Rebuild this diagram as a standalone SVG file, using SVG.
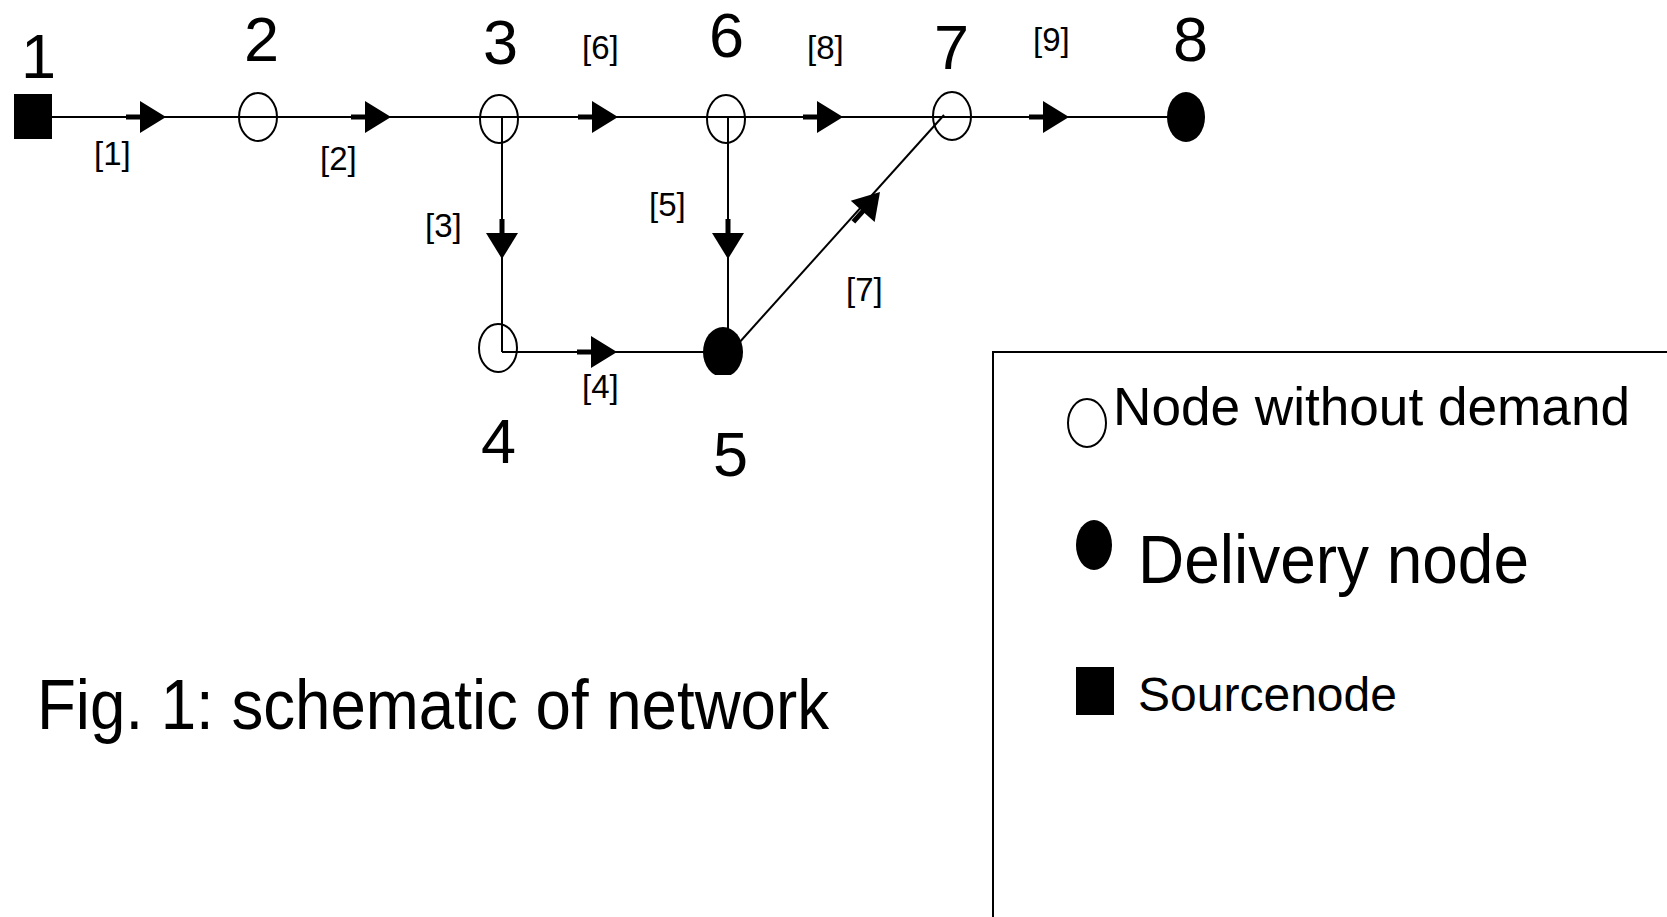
<svg xmlns="http://www.w3.org/2000/svg" xmlns:xlink="http://www.w3.org/1999/xlink" width="1667" height="917" viewBox="0 0 1667 917">
<style>
text{font-family:"Liberation Sans",Arial,sans-serif;fill:#000}
.num{font-size:63px}
.lab{font-size:33px}
.line{stroke:#000;stroke-width:2;fill:none}
.open2{fill:none;stroke:#000;stroke-width:2}
.fill{fill:#000}
</style>
<defs>
<g id="ah"><rect x="-40" y="-2.5" width="16" height="5" fill="#000"/><path d="M0,0 L-26,-16 L-26,16 Z" fill="#000"/></g>
<clipPath id="clip5"><rect x="690" y="300" width="70" height="75"/></clipPath>
</defs>
<rect width="1667" height="917" fill="#fff"/>
<g id="connectors">
<line class="line" x1="52" y1="117" x2="1186" y2="117"/>
<line class="line" x1="502" y1="117" x2="502" y2="352"/>
<line class="line" x1="502" y1="352" x2="723" y2="352"/>
<line class="line" x1="728" y1="117" x2="728" y2="352"/>
<line class="line" x1="738" y1="344" x2="944" y2="115"/>
<use xlink:href="#ah" transform="translate(166,117)"/>
<use xlink:href="#ah" transform="translate(391,117)"/>
<use xlink:href="#ah" transform="translate(618,117)"/>
<use xlink:href="#ah" transform="translate(843,117)"/>
<use xlink:href="#ah" transform="translate(1069,117)"/>
<use xlink:href="#ah" transform="translate(502,259) rotate(90)"/>
<use xlink:href="#ah" transform="translate(728,259) rotate(90)"/>
<use xlink:href="#ah" transform="translate(617,352)"/>
<use xlink:href="#ah" transform="translate(880,192) rotate(-48.3)"/>
<text class="lab" x="94" y="165">[1]</text>
<text class="lab" x="320" y="170">[2]</text>
<text class="lab" x="425" y="237">[3]</text>
<text class="lab" x="582" y="398">[4]</text>
<text class="lab" x="649" y="216">[5]</text>
<text class="lab" x="582" y="59">[6]</text>
<text class="lab" x="846" y="301">[7]</text>
<text class="lab" x="807" y="59">[8]</text>
<text class="lab" x="1033" y="51">[9]</text>
</g>
<g id="node1"><rect class="fill" x="14" y="94" width="38" height="45"/><text class="num" x="21" y="78">1</text></g>
<g id="node2"><ellipse class="open2" cx="258" cy="117" rx="19" ry="24"/><text class="num" x="244" y="61">2</text></g>
<g id="node3"><ellipse class="open2" cx="499" cy="119" rx="19" ry="24"/><text class="num" x="483" y="64">3</text></g>
<g id="node4"><ellipse class="open2" cx="498" cy="348" rx="19" ry="24"/><text class="num" x="481" y="463">4</text></g>
<g id="node5"><ellipse class="fill" cx="723" cy="352" rx="20" ry="25" clip-path="url(#clip5)"/><text class="num" x="713" y="476">5</text></g>
<g id="node6"><ellipse class="open2" cx="726" cy="119" rx="19" ry="24"/><text class="num" x="709" y="57">6</text></g>
<g id="node7"><ellipse class="open2" cx="952" cy="116" rx="19" ry="24"/><text class="num" x="934" y="69">7</text></g>
<g id="node8"><ellipse class="fill" cx="1186" cy="117" rx="19" ry="25"/><text class="num" x="1173" y="61">8</text></g>
<g id="caption"><text x="37" y="729" font-size="70" textLength="792" lengthAdjust="spacingAndGlyphs">Fig. 1: schematic of network</text></g>
<g id="legend">
<rect x="993" y="352" width="700" height="600" fill="none" stroke="#000" stroke-width="2"/>
<ellipse class="open2" cx="1087" cy="423" rx="19" ry="24" stroke-width="1.5"/>
<text x="1113" y="425" font-size="54" textLength="517" lengthAdjust="spacingAndGlyphs">Node without demand</text>
<ellipse class="fill" cx="1094" cy="545" rx="18" ry="25"/>
<text x="1138" y="583" font-size="68" textLength="391" lengthAdjust="spacingAndGlyphs">Delivery node</text>
<rect class="fill" x="1076" y="667" width="38" height="48"/>
<text x="1138" y="711" font-size="48" textLength="259" lengthAdjust="spacingAndGlyphs">Sourcenode</text>
</g>
</svg>
